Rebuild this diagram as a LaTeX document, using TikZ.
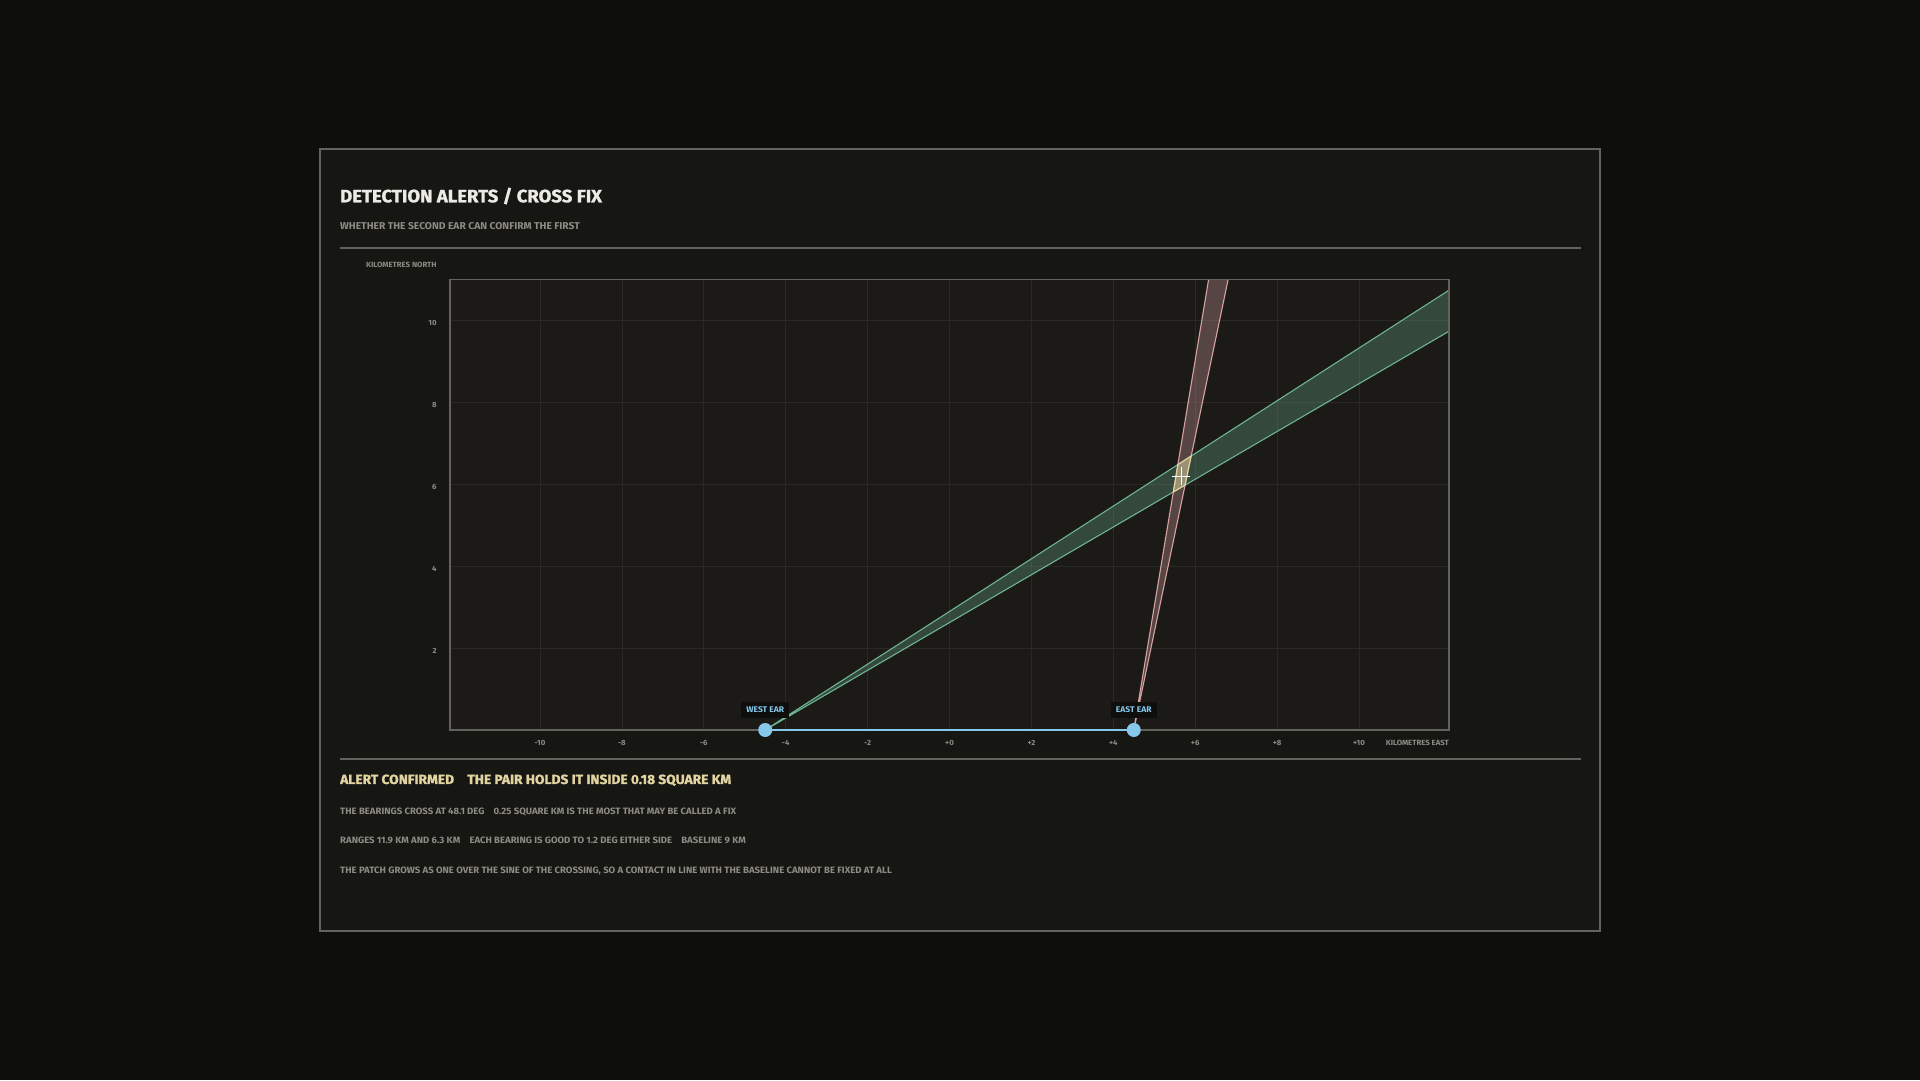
\documentclass[tikz,border=0pt]{standalone}
\usepackage{fontspec}
\setmainfont{Fira Sans}[FakeStretch=1.04]
\newfontfamily\heavyfont{Fira Sans}[FakeStretch=1.035, BoldFeatures={FakeBold=1.2}]
\usetikzlibrary{positioning}
\usetikzlibrary{calc}

\definecolor{bgc}{HTML}{0E0E0C}
\definecolor{panelc}{HTML}{161613}
\definecolor{plotc}{HTML}{1C1A17}
\definecolor{edgec}{HTML}{64625C}
\definecolor{gridc}{HTML}{2B2926}
\definecolor{greyc}{HTML}{8E8B84}
\definecolor{titlec}{HTML}{ECEAE4}
\definecolor{warnc}{HTML}{E2D4A0}
\definecolor{earc}{HTML}{86C8EC}
\definecolor{westc}{HTML}{6DB490}
\definecolor{eastc}{HTML}{D6A2A2}
\definecolor{fixc}{HTML}{E4D69C}

\tikzset{txt/.style={inner sep=0pt, anchor=base west, text=greyc, font=\bfseries\fontsize{9.2}{11}\selectfont}}
\tikzset{tick/.style={inner sep=0pt, text=greyc, font=\bfseries\fontsize{7.5}{8}\selectfont}}
\tikzset{ear/.style={circle, fill=earc, minimum size=14pt, inner sep=0pt}}
\tikzset{earlab/.style={fill=bgc, text=earc, inner xsep=5pt, inner ysep=5.5pt, text depth=0pt, font=\bfseries\fontsize{8.2}{10}\selectfont}}
\tikzset{rule/.style={draw=edgec, line width=1.5pt}}
\tikzset{bearing/.style={line width=1.1pt}}

\begin{document}
\begin{tikzpicture}[x=1pt, y=1pt]
\useasboundingbox (0,0) rectangle (1920,1080);
\fill[bgc] (0,0) rectangle (1920,1080);
\draw[fill=panelc, draw=edgec, line width=2pt] (320,149) rectangle (1600,931);

% heading
\node[txt, text=titlec, font=\heavyfont\bfseries\fontsize{17.9}{20}\selectfont] (title) at (340,877.7) {DETECTION ALERTS / CROSS FIX};
\node[txt, font=\bfseries\fontsize{9.9}{12}\selectfont] (sub) at (340,850) {WHETHER THE SECOND EAR CAN CONFIRM THE FIRST};
\draw[rule] (340,832) -- (1581,832);
\node[txt, font=\bfseries\fontsize{7.5}{8}\selectfont] (north) at (366,812.5) {KILOMETRES NORTH};

\begin{scope}[shift={(949.5,350)}, x=40.95pt, y=40.95pt]
\fill[plotc] (-12.2,0) rectangle (12.2,11);
\foreach \gx in {-10,-8,...,10}
  \draw[gridc, line width=0.8pt] (\gx,0) -- (\gx,11);
\foreach \gy in {2,4,...,10}
  \draw[gridc, line width=0.8pt] (-12.2,\gy) -- (12.2,\gy);

\coordinate (W) at (-4.5,0);
\coordinate (E) at (4.5,0);
\coordinate (wlo) at ($(W)+(30.25:40)$);
\coordinate (whi) at ($(W)+(32.75:40)$);
\coordinate (elo) at ($(E)+(78.17:40)$);
\coordinate (ehi) at ($(E)+(80.57:40)$);

\begin{scope}
\clip (-12.2,0) rectangle (12.2,11);
\fill[westc, fill opacity=0.3] (W) -- (wlo) -- (whi) -- cycle;
\draw[westc, bearing] (wlo) -- (W) -- (whi);
\fill[eastc, fill opacity=0.32] (E) -- (elo) -- (ehi) -- cycle;
\draw[eastc, bearing] (elo) -- (E) -- (ehi);
\end{scope}

% the patch both bearings allow
\coordinate (p1) at (intersection of W--wlo and E--ehi);
\coordinate (p2) at (intersection of W--wlo and E--elo);
\coordinate (p3) at (intersection of W--whi and E--elo);
\coordinate (p4) at (intersection of W--whi and E--ehi);
\draw[fixc, line width=1pt, fill=fixc, fill opacity=0.4] (p1) -- (p2) -- (p3) -- (p4) -- cycle;
\coordinate (fix) at (5.662,6.192);
\draw[white, line width=1.6pt] ($(fix)+(-0.22,0)$) -- ($(fix)+(0.22,0)$)
  ($(fix)+(0,-0.22)$) -- ($(fix)+(0,0.22)$);

\draw[edgec, line width=1.5pt] (-12.2,0) rectangle (12.2,11);

\foreach \gx/\gl in {-10/-10,-8/-8,-6/-6,-4/-4,-2/-2,0/+0,2/+2,4/+4,6/+6,8/+8,10/+10}
  \node[tick] (x\gx) at (\gx,-0.32) {\gl};
\foreach \gy in {2,4,...,10}
  \node[tick, anchor=east] (y\gy) at (-12.52,\gy-0.06) {\gy};
\node[tick, anchor=east] (east axis) at (12.2,-0.32) {KILOMETRES EAST};

\node[ear] (west) at (W) {};
\node[ear] (east) at (E) {};
\draw[earc, line width=2.5pt] (west) -- (east);
\node[earlab, on grid, above=20pt of west] (westlab) {WEST EAR};
\node[earlab, on grid, above=20pt of east] (eastlab) {EAST EAR};
\end{scope}

% verdict
\draw[rule] (340,321) -- (1581,321);
\node[txt, text=warnc, font=\heavyfont\bfseries\fontsize{13.3}{15}\selectfont] (verdict) at (340,296) {ALERT CONFIRMED\quad THE PAIR HOLDS IT INSIDE 0.18 SQUARE KM};
\node[txt] (l1) at (340,265.5) {THE BEARINGS CROSS AT 48.1 DEG\quad 0.25 SQUARE KM IS THE MOST THAT MAY BE CALLED A FIX};
\node[txt] (l2) at (340,236.5) {RANGES 11.9 KM AND 6.3 KM\quad EACH BEARING IS GOOD TO 1.2 DEG EITHER SIDE\quad BASELINE 9 KM};
\node[txt] (l3) at (340,207) {THE PATCH GROWS AS ONE OVER THE SINE OF THE CROSSING, SO A CONTACT IN LINE WITH THE BASELINE CANNOT BE FIXED AT ALL};
\end{tikzpicture}
\end{document}
